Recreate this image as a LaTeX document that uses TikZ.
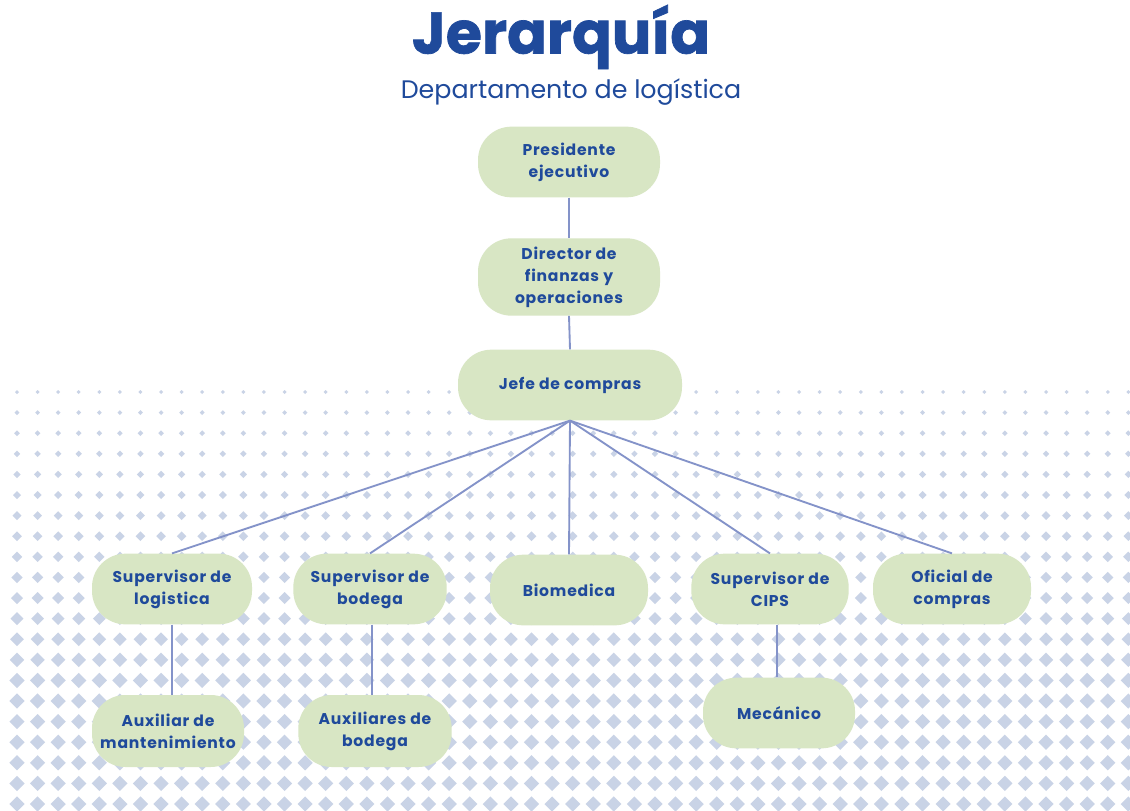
\documentclass[tikz,border=0pt]{standalone}
\usepackage{fontspec}
\setmainfont{Poppins}
\newfontfamily\boxfont[LetterSpace=5]{Poppins}
\newfontfamily\titlefont[FakeBold=1.2]{Poppins}
\definecolor{navy}{HTML}{1F4A9B}
\definecolor{leaf}{HTML}{D8E6C4}
\definecolor{dotc}{HTML}{C9D3E6}
\definecolor{wire}{HTML}{8493C9}
\tikzset{
  box/.style={fill=leaf, rounded corners=25pt, minimum height=53pt, align=center,
    text=navy, font=\boxfont\fontsize{11.7}{16.5}\selectfont\bfseries, inner sep=0pt},
  link/.style={draw=wire, line width=1.4pt}
}
\begin{document}
\begin{tikzpicture}[x=0.75pt,y=-0.75pt]
\useasboundingbox (0,0) rectangle (1130,810);
\fill[white] (0,0) rectangle (1130,810);
% dotted background
\foreach \i in {0,...,20}{
  \pgfmathsetmacro{\s}{min(2+0.4*\i,7.6)}
  \pgfmathsetmacro{\yy}{392+20.6*\i}
  \foreach \j in {0,...,54}{
    \pgfmathsetmacro{\xx}{17+20.58*\j}
    \fill[dotc] (\xx-\s,\yy) -- (\xx,\yy-\s) -- (\xx+\s,\yy) -- (\xx,\yy+\s) -- cycle;
  }
}
% titles
\node[text=navy, font=\titlefont\fontsize{44}{48}\selectfont\bfseries] (title) at (561,37) {Jerarquía};
\node[text=navy, font=\fontsize{19}{22}\selectfont] (sub) at (571,92) {Departamento de logística};
% nodes
\node[box, minimum width=136.5pt] (pres) at (569,162) {Presidente\\ejecutivo};
\node[box, minimum width=136.5pt, minimum height=58pt] (dir) at (569,277) {Director de\\finanzas y\\operaciones};
\node[box, minimum width=168pt] (jefe) at (570,385) {Jefe de compras};
\node[box, minimum width=120pt] (slog) at (172,589) {Supervisor de\\logistica};
\node[box, minimum width=115pt] (sbod) at (370,589) {Supervisor de\\bodega};
\node[box, minimum width=118.5pt] (bio) at (569,590) {Biomedica};
\node[box, minimum width=118pt] (scips) at (770,589) {Supervisor de\\CIPS};
\node[box, minimum width=118.5pt] (ofi) at (952,589) {Oficial de\\compras};
\node[box, minimum width=114pt, minimum height=54pt] (amant) at (168,731) {Auxiliar de\\mantenimiento};
\node[box, minimum width=115pt, minimum height=54pt] (abod) at (375,731) {Auxiliares de\\bodega};
\node[box, minimum width=114pt] (mec) at (779,713) {Mecánico};
% connectors
\draw[link] (pres.south) -- (dir.north);
\draw[link] (dir.south) -- (jefe.north);
\foreach \c in {slog,sbod,bio,scips,ofi}{
  \draw[link] (jefe.south) -- (\c.north);
}
\draw[link] (slog.south) -- (slog.south |- amant.north);
\draw[link] ([xshift=1.5pt]sbod.south) -- ([xshift=1.5pt]sbod.south |- abod.north);
\draw[link] ([xshift=5pt]scips.south) -- ([xshift=5pt]scips.south |- mec.north);
\end{tikzpicture}
\end{document}
